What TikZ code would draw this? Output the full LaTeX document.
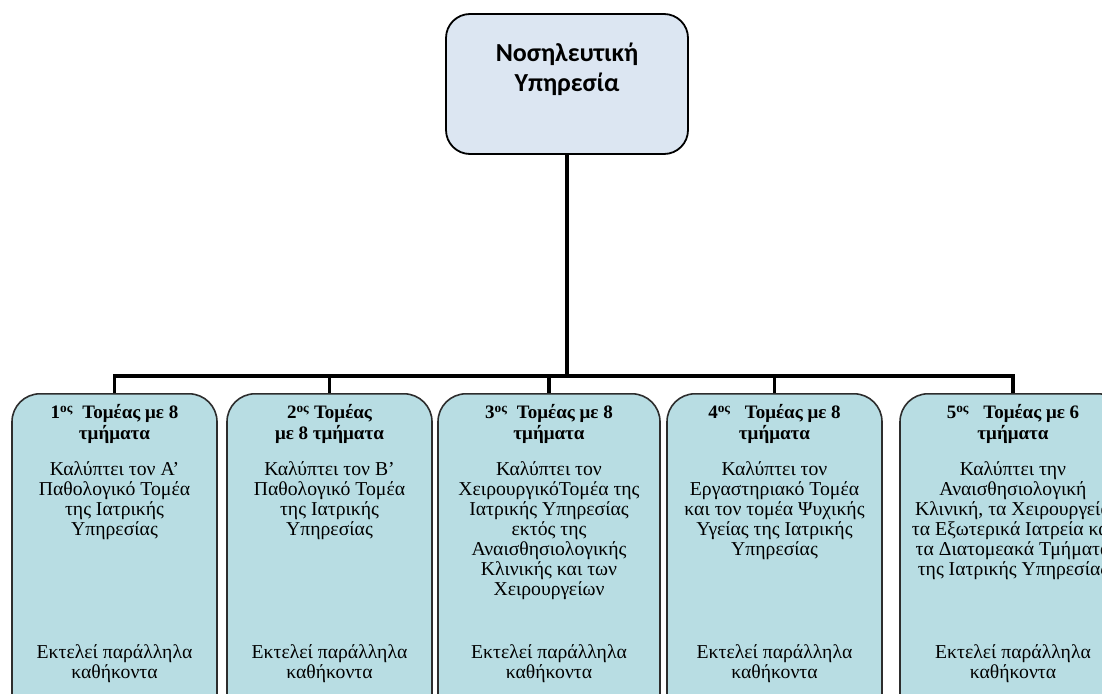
\documentclass[tikz,border=0pt]{standalone}
\usepackage{fontspec}
\setmainfont{Liberation Serif}
\newfontfamily\calibri{Carlito}
\usetikzlibrary{positioning}
\definecolor{topfill}{RGB}{220,230,242}
\definecolor{secfill}{RGB}{184,221,227}
\definecolor{secline}{RGB}{45,45,45}

\begin{document}
\begin{tikzpicture}[x=1pt,y=-1pt,node distance=6pt]
  \tikzstyle{topbox}=[draw,line width=1.8pt,rounded corners=24pt,fill=topfill,minimum width=242pt,minimum height=140pt]
  \tikzstyle{secbox}=[draw=secline,line width=1.6pt,rounded corners=28pt,fill=secfill,minimum height=330pt,anchor=north]
  \tikzstyle{title}=[align=center,font=\bfseries\fontsize{19}{21}\selectfont,inner sep=0pt]
  \tikzstyle{body}=[align=center,font=\fontsize{19.7}{20}\selectfont,inner sep=0pt]
  \tikzstyle{conn}=[line width=3.5pt]
  \useasboundingbox (0,0) rectangle (1102,693);
  \fill[white] (0,0) rectangle (1102,693);
  % top node
  \node[topbox] (nosil) at (567,84) {};
  \node[align=center,inner sep=0pt,font=\calibri\bfseries\fontsize{26}{30}\selectfont,below=30pt of nosil.north] (nosiltxt) {Νοσηλευτική\\Υπηρεσία};
  % sectors
  \node[secbox,minimum width=205pt] (t1) at (114.5,393) {};
  \node[secbox,minimum width=205pt] (t2) at (329.5,393) {};
  \node[secbox,minimum width=222pt] (t3) at (549,393) {};
  \node[secbox,minimum width=215pt] (t4) at (774.5,393) {};
  \node[secbox,minimum width=226pt] (t5) at (1013,393) {};
  \node[title,below=11pt of t1.north] (ti1) {1\textsuperscript{ος}\ \ Τομέας με 8\\τμήματα};
  \node[title,below=11pt of t2.north] (ti2) {2\textsuperscript{ος} Τομέας\\με 8 τμήματα};
  \node[title,below=11pt of t3.north] (ti3) {3\textsuperscript{ος}\ \ Τομέας με 8\\τμήματα};
  \node[title,below=11pt of t4.north] (ti4) {4\textsuperscript{ος}\ \ \ Τομέας με 8\\τμήματα};
  \node[title,below=11pt of t5.north] (ti5) {5\textsuperscript{ος}\ \ \ Τομέας με 6\\τμήματα};
  \node[body,below=18pt of ti1] (b1) {Καλύπτει τον Α’\\Παθολογικό Τομέα\\της Ιατρικής\\Υπηρεσίας};
  \node[body,below=18pt of ti2] (b2) {Καλύπτει τον Β’\\Παθολογικό Τομέα\\της Ιατρικής\\Υπηρεσίας};
  \node[body,below=18pt of ti3] (b3) {Καλύπτει τον\\ΧειρουργικόΤομέα της\\Ιατρικής Υπηρεσίας\\εκτός της\\Αναισθησιολογικής\\Κλινικής και των\\Χειρουργείων};
  \node[body,below=18pt of ti4] (b4) {Καλύπτει τον\\Εργαστηριακό Τομέα\\και τον τομέα Ψυχικής\\Υγείας της Ιατρικής\\Υπηρεσίας};
  \node[body,below=18pt of ti5] (b5) {Καλύπτει την\\Αναισθησιολογική\\Κλινική, τα Χειρουργεία\\τα Εξωτερικά Ιατρεία και\\τα Διατομεακά Τμήματα\\της Ιατρικής Υπηρεσίας};
  \node[body,below=251pt of t1.north] (e1) {Εκτελεί παράλληλα\\καθήκοντα};
  \node[body,below=251pt of t2.north] (e2) {Εκτελεί παράλληλα\\καθήκοντα};
  \node[body,below=251pt of t3.north] (e3) {Εκτελεί παράλληλα\\καθήκοντα};
  \node[body,below=251pt of t4.north] (e4) {Εκτελεί παράλληλα\\καθήκοντα};
  \node[body,below=251pt of t5.north] (e5) {Εκτελεί παράλληλα\\καθήκοντα};
  % connectors
  \draw[conn] (nosil.south) -- ++(0,221) coordinate (bus);
  \draw[conn] (bus) -| (t1.north);
  \draw[conn] (bus) -| (t2.north);
  \draw[conn] (bus) -| (t3.north);
  \draw[conn] (bus) -| (t4.north);
  \draw[conn] (bus) -| (t5.north);
\end{tikzpicture}
\end{document}
